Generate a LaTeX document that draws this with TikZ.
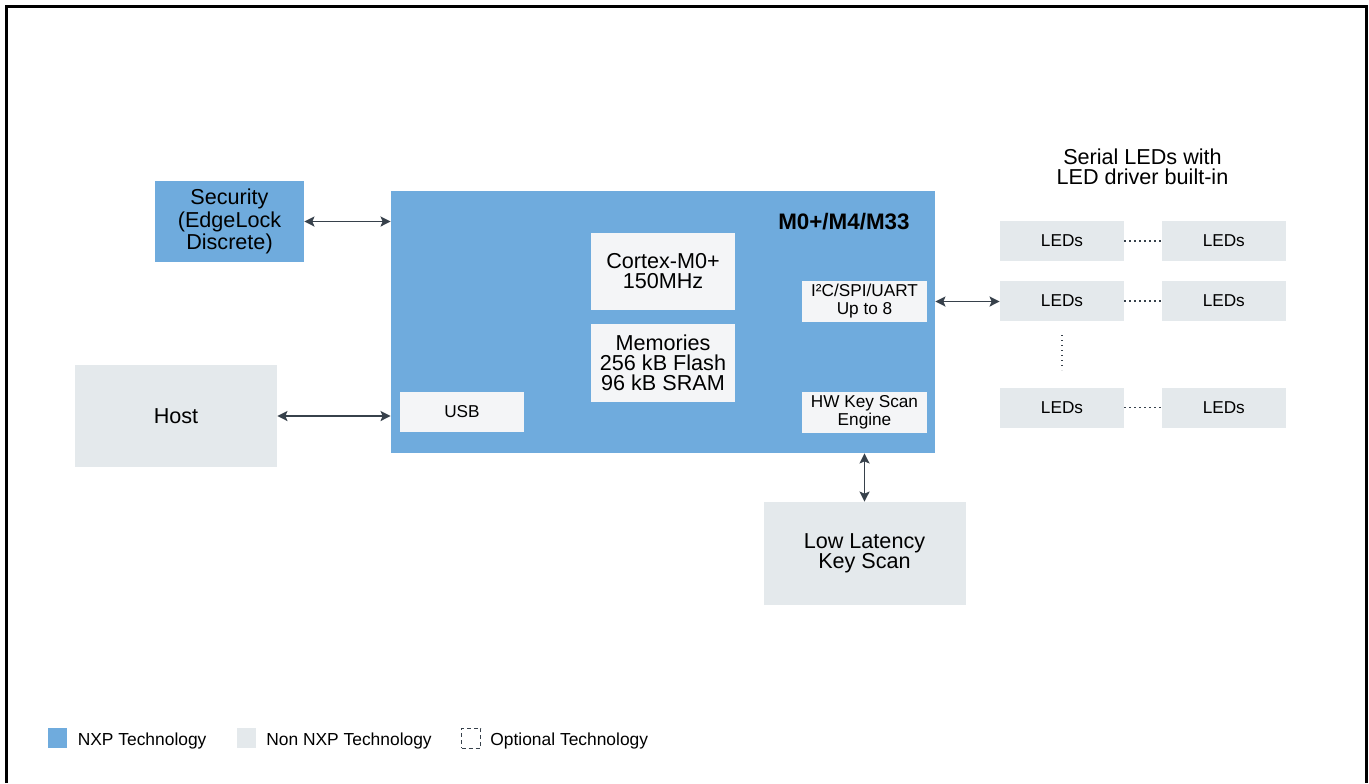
\documentclass[tikz,border=0pt]{standalone}
\usepackage{fontspec}
\setmainfont{Liberation Sans}
\usetikzlibrary{arrows.meta,positioning}

\definecolor{nxpblue}{RGB}{111,171,221}
\definecolor{nonnxp}{RGB}{228,233,236}
\definecolor{chipwhite}{RGB}{244,245,247}
\definecolor{arrowgray}{RGB}{55,65,75}

\begin{document}
\begin{tikzpicture}[x=0.5pt,y=-0.5pt,node distance=9.5pt,
    >={Stealth[length=5pt,width=5pt,inset=1pt]}]
  \tikzstyle{blk}=[inner sep=0pt,align=center,font=\fontsize{10.8}{10}\selectfont]
  \tikzstyle{nxp}=[blk,fill=nxpblue]
  \tikzstyle{ext}=[blk,fill=nonnxp]
  \tikzstyle{part}=[blk,fill=chipwhite,font=\fontsize{8.6}{9}\selectfont]
  \tikzstyle{led}=[part,fill=nonnxp,minimum width=62pt,minimum height=20pt]
  \tikzstyle{link}=[<->,color=arrowgray,line width=0.9pt]
  \tikzstyle{dots}=[draw=arrowgray,line width=0.75pt,dash pattern=on 0.6pt off 1.9pt]
  \tikzstyle{swatch}=[inner sep=0pt,minimum width=9.5pt,minimum height=10pt]
  \tikzstyle{legendtxt}=[inner sep=0pt,font=\fontsize{8.7}{10}\selectfont]

  \useasboundingbox (0,0) rectangle (1369,783);
  \draw[line width=1.5pt] (6,783) -- (6,6) -- (1366,6) -- (1366,783);

  % controller and its blocks
  \node[nxp,minimum width=74.5pt,minimum height=40.5pt] (sec) at (229.5,221.5) {Security\\(EdgeLock\\Discrete)};
  \node[nxp,minimum width=272pt,minimum height=131pt] (mcu) at (663,322) {};
  \node[anchor=east,inner sep=0pt,font=\fontsize{11.2}{12}\selectfont\bfseries] (core) at (910,222) {M0+/M4/M33};
  \node[blk,fill=chipwhite,minimum width=72pt,minimum height=38.5pt] (cpu) at (663,271.5) {Cortex-M0+\\150MHz};
  \node[blk,fill=chipwhite,minimum width=72pt,minimum height=39pt] (mem) at (663,363) {Memories\\256 kB Flash\\96 kB SRAM};
  \node[part,minimum width=62pt,minimum height=20pt] (usb) at (462,412) {USB};
  \node[part,minimum width=62.5pt,minimum height=20.5pt] (uart) at (864.5,301.5) {I²C/SPI/UART\\Up to 8};
  \node[part,minimum width=62.5pt,minimum height=20.5pt] (hwscan) at (864.5,412.5) {HW Key Scan\\Engine};

  \node[ext,minimum width=101pt,minimum height=51pt] (host) at (176,416) {Host};
  \node[ext,minimum width=101pt,minimum height=51.5pt] (keyscan) at (864.5,553.5) {Low Latency\\Key Scan};

  % LED chains
  \node[blk] (ledtitle) at (1142.5,167) {Serial LEDs with\\LED driver built-in};
  \node[led] (led1a) at (1062,241) {LEDs};
  \node[led] (led1b) [right=18.5pt of led1a] {LEDs};
  \node[led] (led2a) [below=of led1a] {LEDs};
  \node[led] (led2b) [right=18.5pt of led2a] {LEDs};
  \node[led] (led3a) [below=33pt of led2a] {LEDs};
  \node[led] (led3b) [right=18.5pt of led3a] {LEDs};

  \draw[dots] (led1a) -- (led1b);
  \draw[dots] (led2a) -- (led2b);
  \draw[dots] (led3a) -- (led3b);
  \draw[dots,shorten <=7pt,shorten >=8.5pt] (led2a) -- (led3a);

  \path[link]
    (sec) edge (sec -| mcu.west)
    (host) edge (host -| mcu.west)
    (uart -| mcu.east) edge (uart -| led2a.west)
    (hwscan |- mcu.south) edge (hwscan |- keyscan.north);

  % legend
  \node[swatch,fill=nxpblue] (keynxp) at (57.5,738) {};
  \node[legendtxt,right=5pt of keynxp,yshift=-1.5pt] (txtnxp) {NXP Technology};
  \node[swatch,fill=nonnxp] (keyext) at (246,738) {};
  \node[legendtxt,right=5pt of keyext,yshift=-1.5pt] (txtext) {Non NXP Technology};
  \node[swatch,draw=arrowgray,line width=0.5pt,dash pattern=on 2pt off 1.5pt] (keyopt) at (471,738) {};
  \node[legendtxt,right=4.5pt of keyopt,yshift=-1.5pt] (txtopt) {Optional Technology};
\end{tikzpicture}
\end{document}
